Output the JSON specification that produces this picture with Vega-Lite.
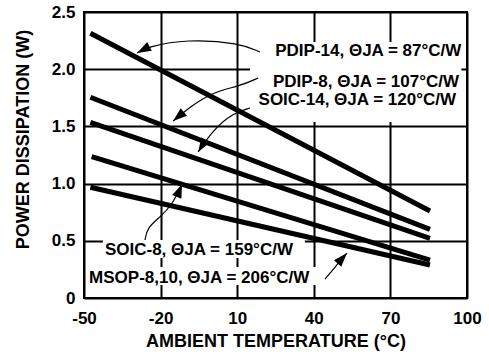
{
  "$schema": "https://vega.github.io/schema/vega-lite/v6.json",
  "width": 383,
  "height": 286,
  "autosize": "none",
  "padding": {"left": 84, "top": 12, "right": 22, "bottom": 62},
  "background": "white",
  "config": {
    "view": {"stroke": "black", "strokeWidth": 2},
    "font": "Liberation Sans",
    "axis": {
      "grid": true,
      "gridColor": "black",
      "gridWidth": 2,
      "gridOpacity": 1,
      "domain": false,
      "ticks": false,
      "labelFont": "Liberation Sans",
      "labelFontWeight": "bold",
      "labelFontSize": 17,
      "labelColor": "black",
      "titleFont": "Liberation Sans",
      "titleFontWeight": "bold",
      "titleFontSize": 18,
      "titleColor": "black",
      "labelFlush": false,
      "labelOverlap": false
    }
  },
  "datasets": {
    "curves": [
      {"pkg": "PDIP-14", "T": -47.5, "P": 2.314},
      {"pkg": "PDIP-14", "T": 85.5, "P": 0.76},
      {"pkg": "PDIP-8", "T": -47.5, "P": 1.755},
      {"pkg": "PDIP-8", "T": 85.5, "P": 0.60},
      {"pkg": "SOIC-14", "T": -47.5, "P": 1.536},
      {"pkg": "SOIC-14", "T": 85.5, "P": 0.522},
      {"pkg": "SOIC-8", "T": -47, "P": 1.235},
      {"pkg": "SOIC-8", "T": 85.5, "P": 0.332},
      {"pkg": "MSOP-8,10", "T": -47.5, "P": 0.968},
      {"pkg": "MSOP-8,10", "T": 85.5, "P": 0.288}
    ],
    "boxes": [
      {"x1": 15.0, "x2": 97.8, "y1": 2.238, "y2": 1.538},
      {"x1": -42.6, "x2": 36.5, "y1": 0.507, "y2": 0.350},
      {"x1": -49.2, "x2": 44.4, "y1": 0.271, "y2": 0.114}
    ],
    "arrows": [
      {"a": "a1", "o": 1, "T": 18.9, "P": 2.150},
      {"a": "a1", "o": 2, "T": 11.1, "P": 2.229},
      {"a": "a1", "o": 3, "T": -9.7, "P": 2.264},
      {"a": "a1", "o": 4, "T": -25.3, "P": 2.194},
      {"a": "a1", "o": 5, "T": -29.2, "P": 2.142},
      {"a": "a2", "o": 1, "T": 18.2, "P": 1.923},
      {"a": "a2", "o": 2, "T": 11.1, "P": 1.853},
      {"a": "a2", "o": 3, "T": 0.5, "P": 1.801},
      {"a": "a2", "o": 4, "T": -8.5, "P": 1.670},
      {"a": "a2", "o": 5, "T": -15.1, "P": 1.547},
      {"a": "a3", "o": 1, "T": 15.0, "P": 1.661},
      {"a": "a3", "o": 2, "T": 8.4, "P": 1.617},
      {"a": "a3", "o": 3, "T": 0.5, "P": 1.469},
      {"a": "a3", "o": 4, "T": -5.3, "P": 1.276},
      {"a": "a4", "o": 1, "T": -26.1, "P": 0.507},
      {"a": "a4", "o": 2, "T": -25.3, "P": 0.612},
      {"a": "a4", "o": 3, "T": -20.2, "P": 0.708},
      {"a": "a4", "o": 4, "T": -15.5, "P": 0.813},
      {"a": "a4", "o": 5, "T": -11.6, "P": 0.997},
      {"a": "a5", "o": 1, "T": 44.4, "P": 0.166},
      {"a": "a5", "o": 2, "T": 48.7, "P": 0.280},
      {"a": "a5", "o": 3, "T": 53.0, "P": 0.393}
    ],
    "heads": [
      {"a": "a1", "T": -29.2, "P": 2.142},
      {"a": "a2", "T": -15.1, "P": 1.547},
      {"a": "a3", "T": -5.3, "P": 1.276},
      {"a": "a4", "T": -11.6, "P": 0.997},
      {"a": "a5", "T": 53.0, "P": 0.393}
    ],
    "labelsRight": [
      {"label": "PDIP-14, ΘJA = 87°C/W", "T": 97.8, "P": 2.118},
      {"label": "PDIP-8, ΘJA = 107°C/W", "T": 96.9, "P": 1.848},
      {"label": "SOIC-14, ΘJA = 120°C/W", "T": 95.7, "P": 1.685}
    ],
    "labelsLeft": [
      {"label": "SOIC-8, ΘJA = 159°C/W", "T": -41.8, "P": 0.376},
      {"label": "MSOP-8,10, ΘJA = 206°C/W", "T": -48.0, "P": 0.128}
    ]
  },
  "layer": [
    {
      "data": {"name": "boxes"},
      "mark": {"type": "rect", "fill": "white", "strokeWidth": 0},
      "encoding": {
        "x": {
          "field": "x1", "type": "quantitative",
          "scale": {"domain": [-50, 100], "nice": false, "zero": false},
          "axis": {
            "values": [-50, -20, 10, 40, 70, 100],
            "labelExpr": "datum.value + ''",
            "labelPadding": 12,
            "title": "AMBIENT TEMPERATURE (°C)",
            "titleBaseline": "alphabetic",
            "titleY": 48
          }
        },
        "x2": {"field": "x2"},
        "y": {
          "field": "y1", "type": "quantitative",
          "scale": {"domain": [0, 2.5], "nice": false, "zero": true},
          "axis": {
            "values": [0, 0.5, 1, 1.5, 2, 2.5],
            "labelExpr": "datum.value == 0 ? '0' : format(datum.value, '.1f')",
            "labelPadding": 9,
            "title": "POWER DISSIPATION (W)",
            "titleAngle": 270,
            "titleAlign": "center",
            "titleBaseline": "middle",
            "titleX": -61,
            "titleY": 127
          }
        },
        "y2": {"field": "y2"}
      }
    },
    {
      "data": {"name": "curves"},
      "mark": {"type": "line", "color": "black", "strokeWidth": 5, "strokeCap": "butt"},
      "encoding": {
        "x": {"field": "T", "type": "quantitative"},
        "y": {"field": "P", "type": "quantitative"},
        "detail": {"field": "pkg"}
      }
    },
    {
      "data": {"name": "arrows"},
      "mark": {"type": "line", "color": "black", "strokeWidth": 1.2, "interpolate": "basis"},
      "encoding": {
        "x": {"field": "T", "type": "quantitative"},
        "y": {"field": "P", "type": "quantitative"},
        "detail": {"field": "a"},
        "order": {"field": "o", "type": "quantitative"}
      }
    },
    {
      "data": {"name": "heads"},
      "transform": [{"filter": "datum.a == 'a1'"}],
      "mark": {"type": "point", "shape": "M0,0L-0.7,2L0.7,2Z", "filled": true, "color": "black", "opacity": 1, "size": 196, "angle": 242},
      "encoding": {"x": {"field": "T", "type": "quantitative"}, "y": {"field": "P", "type": "quantitative"}}
    },
    {
      "data": {"name": "heads"},
      "transform": [{"filter": "datum.a == 'a2'"}],
      "mark": {"type": "point", "shape": "M0,0L-0.7,2L0.7,2Z", "filled": true, "color": "black", "opacity": 1, "size": 196, "angle": 230},
      "encoding": {"x": {"field": "T", "type": "quantitative"}, "y": {"field": "P", "type": "quantitative"}}
    },
    {
      "data": {"name": "heads"},
      "transform": [{"filter": "datum.a == 'a3'"}],
      "mark": {"type": "point", "shape": "M0,0L-0.7,2L0.7,2Z", "filled": true, "color": "black", "opacity": 1, "size": 196, "angle": 212},
      "encoding": {"x": {"field": "T", "type": "quantitative"}, "y": {"field": "P", "type": "quantitative"}}
    },
    {
      "data": {"name": "heads"},
      "transform": [{"filter": "datum.a == 'a4'"}],
      "mark": {"type": "point", "shape": "M0,0L-0.7,2L0.7,2Z", "filled": true, "color": "black", "opacity": 1, "size": 196, "angle": 22},
      "encoding": {"x": {"field": "T", "type": "quantitative"}, "y": {"field": "P", "type": "quantitative"}}
    },
    {
      "data": {"name": "heads"},
      "transform": [{"filter": "datum.a == 'a5'"}],
      "mark": {"type": "point", "shape": "M0,0L-0.7,2L0.7,2Z", "filled": true, "color": "black", "opacity": 1, "size": 196, "angle": 42},
      "encoding": {"x": {"field": "T", "type": "quantitative"}, "y": {"field": "P", "type": "quantitative"}}
    },
    {
      "data": {"name": "labelsRight"},
      "mark": {"type": "text", "align": "right", "baseline": "alphabetic", "font": "Liberation Sans", "fontWeight": "bold", "fontSize": 17, "color": "black"},
      "encoding": {
        "x": {"field": "T", "type": "quantitative"},
        "y": {"field": "P", "type": "quantitative"},
        "text": {"field": "label"}
      }
    },
    {
      "data": {"name": "labelsLeft"},
      "mark": {"type": "text", "align": "left", "baseline": "alphabetic", "font": "Liberation Sans", "fontWeight": "bold", "fontSize": 17, "color": "black"},
      "encoding": {
        "x": {"field": "T", "type": "quantitative"},
        "y": {"field": "P", "type": "quantitative"},
        "text": {"field": "label"}
      }
    }
  ]
}
